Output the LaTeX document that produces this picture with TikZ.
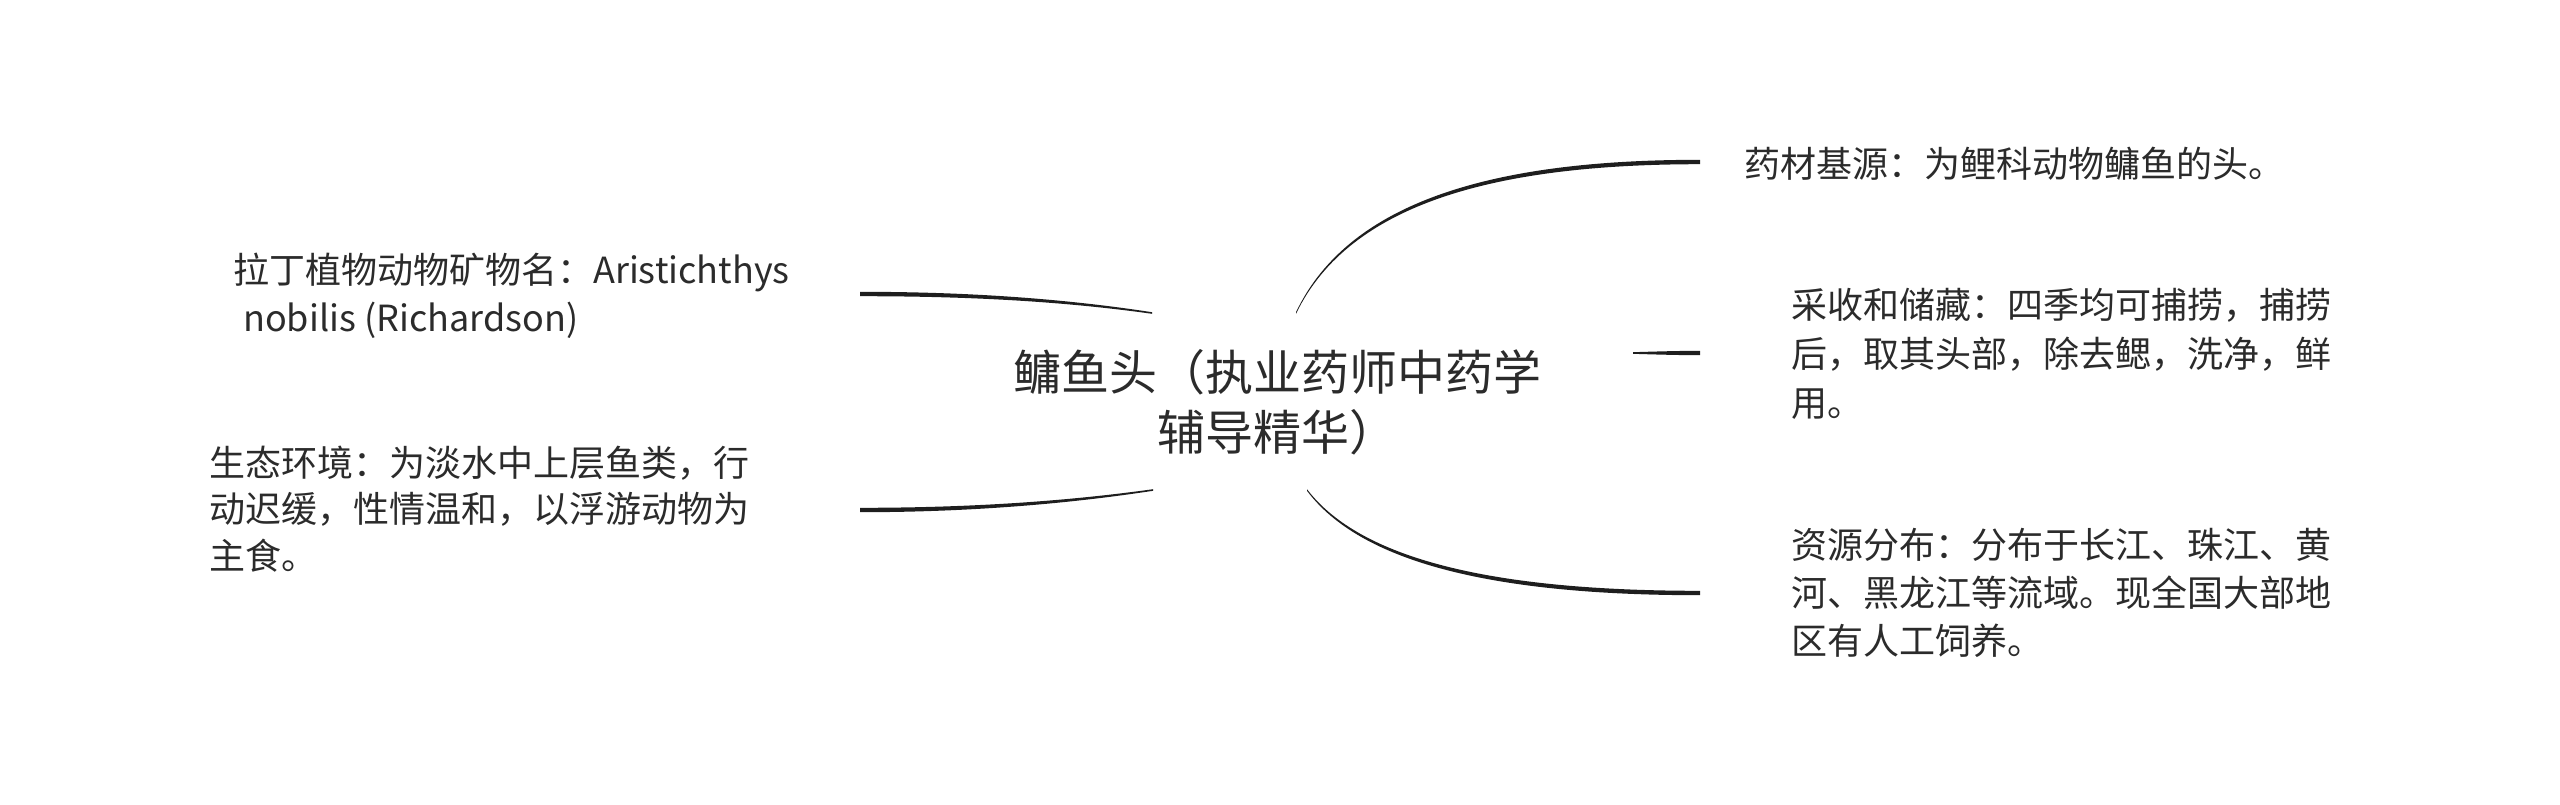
\documentclass[tikz,border=0pt]{standalone}
\usepackage{fontspec}
\setmainfont{Noto Sans CJK SC}
\usetikzlibrary{calc}
\definecolor{ink}{HTML}{2B2B2B}
\definecolor{edge}{HTML}{1E1E1E}
\newcommand\tapercurve[4]{%
  \fill[edge] ($(#1)+(0,-0.8)$) .. controls ($(#2)+(0,-1.5)$) and ($(#3)+(0,-2.2)$) .. ($(#4)+(0,-2.2)$)
    -- ($(#4)+(0,2.2)$) .. controls ($(#3)+(0,2.2)$) and ($(#2)+(0,1.5)$) .. ($(#1)+(0,0.8)$) -- cycle;}
\begin{document}
\begin{tikzpicture}[x=1pt,y=-1pt,
  leaf/.style={anchor=base west,inner sep=0pt,align=left,text=ink},
  root/.style={anchor=base,inner sep=0pt,align=center,text=ink,font=\fontsize{48}{60}\selectfont}]
\useasboundingbox (0,0) rectangle (2560,804);
% central topic (anchor = baseline of last line)
\node[root] (c) at (1277,450) {鳙鱼头（执业药师中药学\\辅导精华）};
% leaves (anchor = baseline of last line)
\node[leaf,font=\fontsize{36}{48}\selectfont] (L1) at (233,331) {拉丁植物动物矿物名：Aristichthys\\\hspace*{10pt}nobilis (Richardson)};
\node[leaf,font=\fontsize{36}{46.5}\selectfont] (L2) at (209,569) {生态环境：为淡水中上层鱼类，行\\动迟缓，性情温和，以浮游动物为\\主食。};
\node[leaf,font=\fontsize{36}{48}\selectfont] (R1) at (1744,177) {药材基源：为鲤科动物鳙鱼的头。};
\node[leaf,font=\fontsize{36}{49}\selectfont] (R2) at (1791,416) {采收和储藏：四季均可捕捞，捕捞\\后，取其头部，除去鳃，洗净，鲜\\用。};
\node[leaf,font=\fontsize{36}{48}\selectfont] (R3) at (1791,654) {资源分布：分布于长江、珠江、黄\\河、黑龙江等流域。现全国大部地\\区有人工饲养。};
% connector end points
\coordinate (iR1) at (1296,313); \coordinate (aR1) at (1350,200); \coordinate (bR1) at (1500,162); \coordinate (oR1) at (1700,162);
\coordinate (iR2) at (1633,353); \coordinate (aR2) at (1655,353); \coordinate (bR2) at (1680,353); \coordinate (oR2) at (1700,353);
\coordinate (iR3) at (1307,490); \coordinate (aR3) at (1360,560); \coordinate (bR3) at (1490,593); \coordinate (oR3) at (1700,593);
\coordinate (iL1) at (1152,313); \coordinate (aL1) at (1050,298); \coordinate (bL1) at (950,294); \coordinate (oL1) at (860,294);
\coordinate (iL2) at (1153,490); \coordinate (aL2) at (1050,505); \coordinate (bL2) at (950,510); \coordinate (oL2) at (860,510);
\tapercurve{iR1}{aR1}{bR1}{oR1}
\tapercurve{iR2}{aR2}{bR2}{oR2}
\tapercurve{iR3}{aR3}{bR3}{oR3}
\tapercurve{iL1}{aL1}{bL1}{oL1}
\tapercurve{iL2}{aL2}{bL2}{oL2}
\end{tikzpicture}
\end{document}
